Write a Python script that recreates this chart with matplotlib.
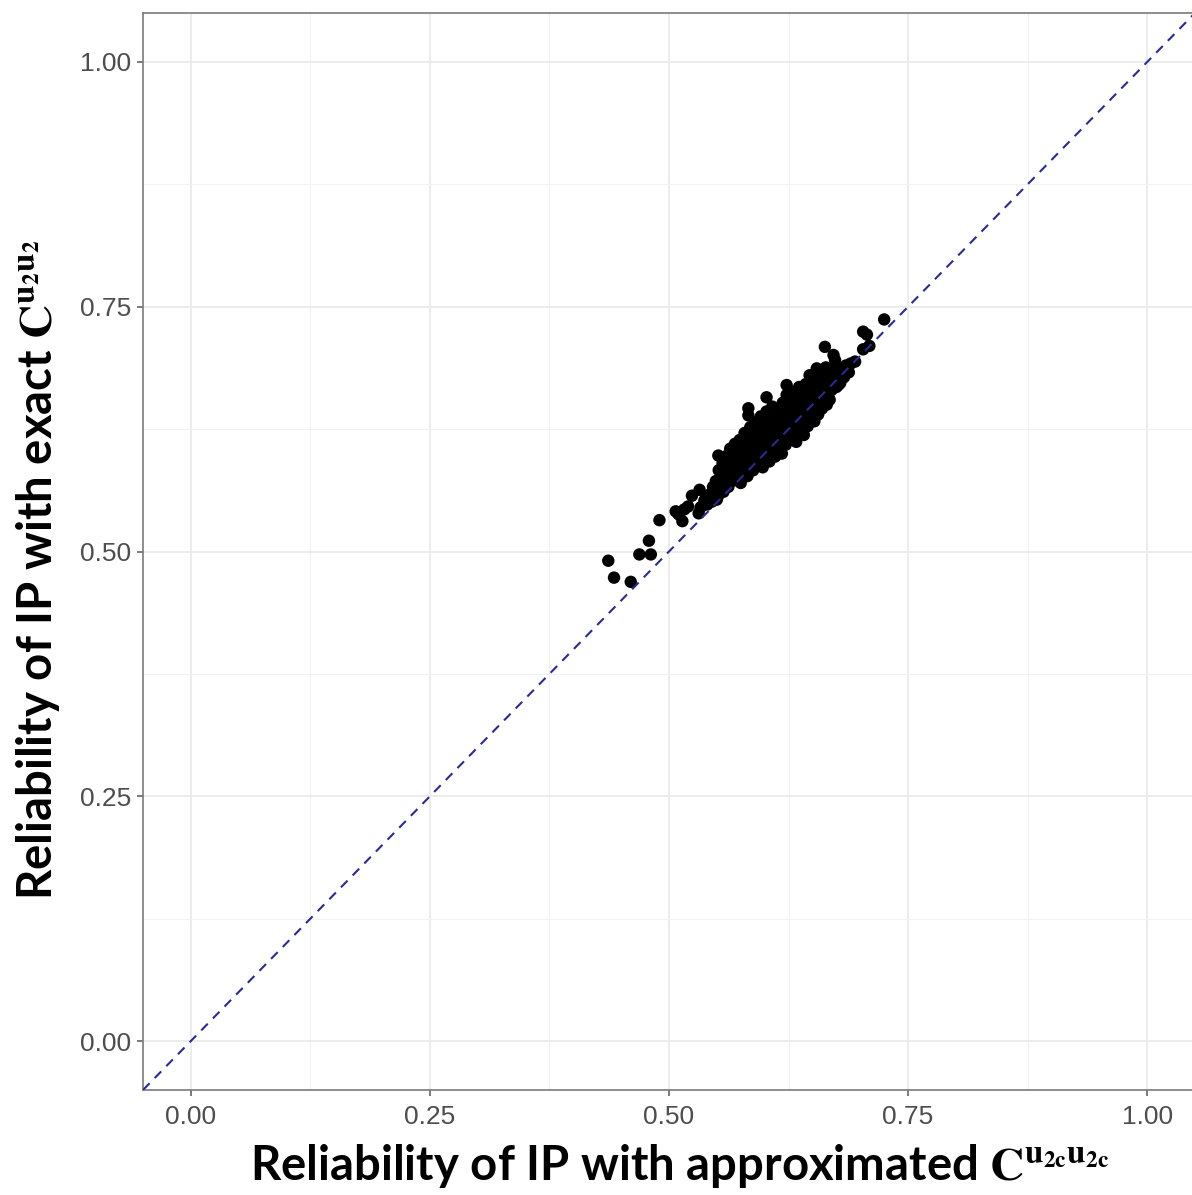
import matplotlib
matplotlib.use("Agg")
import matplotlib.pyplot as plt
from matplotlib.ticker import MultipleLocator

# ---- data ----
approx_outer = [0.4365, 0.4425, 0.460, 0.469, 0.481, 0.479, 0.490, 0.507, 0.514, 0.520,
                0.524, 0.531, 0.532, 0.510, 0.516, 0.550, 0.5516,
                0.725, 0.703, 0.707, 0.7095, 0.703, 0.6946, 0.663, 0.672, 0.6736,
                0.6545, 0.647, 0.623, 0.602, 0.583, 0.583, 0.668, 0.677, 0.682,
                0.6876, 0.642]
exact_outer = [0.4906, 0.4733, 0.469, 0.497, 0.497, 0.511, 0.532, 0.541, 0.531, 0.546,
               0.557, 0.539, 0.563, 0.538, 0.543, 0.553, 0.598,
               0.737, 0.7245, 0.7215, 0.710, 0.7065, 0.694, 0.709, 0.7007, 0.6956,
               0.687, 0.680, 0.670, 0.6575, 0.6463, 0.639, 0.655, 0.670, 0.6837,
               0.689, 0.629]

approx_core = [0.533, 0.537, 0.540, 0.542, 0.545, 0.546, 0.548, 0.549, 0.551, 0.552,
               0.553, 0.555, 0.556, 0.557, 0.558, 0.560, 0.561, 0.562, 0.563, 0.564,
               0.565, 0.566, 0.567, 0.568, 0.569, 0.570, 0.571, 0.572, 0.573, 0.574,
               0.575, 0.576, 0.577, 0.578, 0.579, 0.580, 0.581, 0.582, 0.583, 0.584,
               0.585, 0.586, 0.587, 0.588, 0.589, 0.590, 0.591, 0.592, 0.593, 0.594,
               0.595, 0.596, 0.597, 0.598, 0.599, 0.600, 0.601, 0.602, 0.603, 0.604,
               0.605, 0.606, 0.607, 0.608, 0.609, 0.610, 0.611, 0.612, 0.613, 0.614,
               0.615, 0.616, 0.617, 0.618, 0.619, 0.620, 0.621, 0.622, 0.623, 0.624,
               0.625, 0.626, 0.627, 0.628, 0.629, 0.630, 0.631, 0.632, 0.633, 0.634,
               0.635, 0.636, 0.637, 0.638, 0.639, 0.640, 0.641, 0.642, 0.643, 0.644,
               0.645, 0.646, 0.647, 0.648, 0.649, 0.650, 0.651, 0.652, 0.653, 0.654,
               0.655, 0.656, 0.657, 0.658, 0.659, 0.660, 0.661, 0.662, 0.663, 0.664,
               0.665, 0.666, 0.667, 0.668, 0.670, 0.672, 0.674, 0.675, 0.677, 0.679,
               0.681, 0.683, 0.685, 0.688, 0.690,
               0.570, 0.576, 0.583, 0.590, 0.596, 0.603, 0.610, 0.617, 0.624, 0.631,
               0.638, 0.645, 0.652, 0.659, 0.578, 0.586, 0.594, 0.601, 0.608, 0.615,
               0.622, 0.629, 0.636, 0.643, 0.650, 0.657]
exact_core = [0.545, 0.552, 0.548, 0.558, 0.551, 0.566, 0.560, 0.572, 0.556, 0.583,
              0.565, 0.577, 0.590, 0.561, 0.571, 0.584, 0.598, 0.566, 0.578, 0.605,
              0.589, 0.572, 0.596, 0.583, 0.610, 0.575, 0.591, 0.603, 0.585, 0.614,
              0.570, 0.597, 0.608, 0.580, 0.621, 0.592, 0.603, 0.577, 0.615, 0.588,
              0.627, 0.598, 0.609, 0.583, 0.620, 0.594, 0.632, 0.605, 0.589, 0.616,
              0.600, 0.638, 0.625, 0.586, 0.611, 0.596, 0.622, 0.643, 0.606, 0.630,
              0.592, 0.617, 0.601, 0.648, 0.627, 0.612, 0.597, 0.636, 0.621, 0.605,
              0.645, 0.630, 0.614, 0.600, 0.652, 0.638, 0.623, 0.609, 0.660, 0.645,
              0.630, 0.615, 0.651, 0.637, 0.620, 0.663, 0.644, 0.627, 0.612, 0.655,
              0.640, 0.668, 0.624, 0.648, 0.633, 0.660, 0.619, 0.643, 0.671, 0.652,
              0.628, 0.664, 0.638, 0.676, 0.656, 0.642, 0.668, 0.633, 0.680, 0.650,
              0.662, 0.640, 0.674, 0.655, 0.684, 0.646, 0.668, 0.678, 0.658, 0.688,
              0.650, 0.672, 0.662, 0.683, 0.665, 0.677, 0.690, 0.668, 0.680, 0.672,
              0.686, 0.678, 0.690, 0.683, 0.692,
              0.588, 0.584, 0.600, 0.608, 0.612, 0.618, 0.625, 0.632, 0.636, 0.651,
              0.656, 0.645, 0.658, 0.666, 0.598, 0.614, 0.628, 0.610, 0.636, 0.621,
              0.650, 0.640, 0.646, 0.660, 0.670, 0.662]

approx_all = approx_outer + approx_core
exact_all = exact_outer + exact_core

x_ticks = [0.00, 0.25, 0.50, 0.75, 1.00]
y_ticks = [0.00, 0.25, 0.50, 0.75, 1.00]
x_tick_labels = ["0.00", "0.25", "0.50", "0.75", "1.00"]
y_tick_labels = ["0.00", "0.25", "0.50", "0.75", "1.00"]

x_label = "Reliability of IP with approximated " + r"$\mathbf{C^{u_{2c}u_{2c}}}$"
y_label = "Reliability of IP with exact " + r"$\mathbf{C^{u_{2}u_{2}}}$"

# ---- figure ----
plt.rcParams["mathtext.fontset"] = "stix"
W, H = 1192, 1195
fig = plt.figure(figsize=(W / 100, H / 100), dpi=100)
left, right, top, bottom = 143, 1195, 13, 1090
ax = fig.add_axes([left / W, 1 - bottom / H, (right - left) / W, (bottom - top) / H])

ax.set_xlim(-0.05, 1.05)
ax.set_ylim(-0.05, 1.05)

ax.xaxis.set_minor_locator(MultipleLocator(0.125))
ax.yaxis.set_minor_locator(MultipleLocator(0.125))
ax.set_xticks(x_ticks)
ax.set_yticks(y_ticks)
ax.set_xticklabels(x_tick_labels)
ax.set_yticklabels(y_tick_labels)

ax.grid(which="major", color="#EBEBEB", linewidth=1.3, zorder=0)
ax.grid(which="minor", color="#F2F2F2", linewidth=0.8, zorder=0)
ax.set_axisbelow(True)

ax.tick_params(which="major", length=4.5, width=1.1, color="#555555", pad=4,
               labelsize=19, labelcolor="#4D4D4D")
ax.tick_params(axis="x", which="major", pad=6)
ax.tick_params(which="minor", length=0)
for lab in ax.get_xticklabels() + ax.get_yticklabels():
    lab.set_family("Liberation Sans")

for s in ax.spines.values():
    s.set_color("#7A7A7A")
    s.set_linewidth(1.2)

ax.scatter(approx_all, exact_all, s=80, color="black", edgecolors="none", zorder=3)
ax.axline((0, 0), slope=1, color="#2B2B8F", linewidth=1.5, linestyle=(0, (4.5, 3.5)), zorder=4)

fig.text(680 / W, 1 - 1166 / H, x_label, ha="center", va="center",
         fontsize=34, fontweight="bold", family="Lato")
fig.text(38 / W, 1 - 570 / H, y_label, ha="center", va="center", rotation=90,
         fontsize=34, fontweight="bold", family="Lato")

fig.savefig("out.png", dpi=100)
